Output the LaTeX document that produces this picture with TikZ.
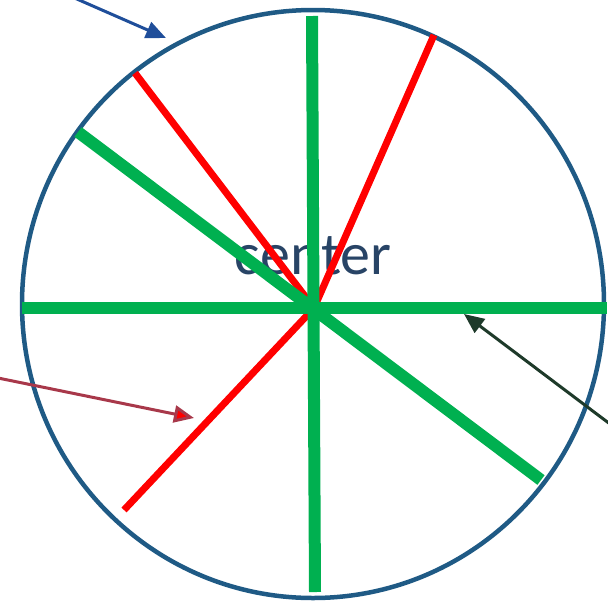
\documentclass[tikz,border=0pt]{standalone}
\usepackage{fontspec}
\setmainfont{Carlito}
\usetikzlibrary{arrows.meta}
\definecolor{rim}{HTML}{1F5A85}
\definecolor{spoke}{HTML}{00B050}
\definecolor{chord}{HTML}{FF0000}
\definecolor{labeltext}{HTML}{284466}
\definecolor{pointblue}{HTML}{1F4E9A}
\definecolor{pointred}{HTML}{A8384A}
\definecolor{pointgreen}{HTML}{1E3A2A}

\begin{document}
\begin{tikzpicture}[x=1pt, y=-1pt,
  diameter/.style={draw=spoke, line width=12pt},
  radius/.style={draw=chord, line width=7pt},
  pointer/.style={line width=3pt, -{Triangle[length=20pt, width=17pt]}}]
  \useasboundingbox (0,0) rectangle (608,606);

  \draw[rim, line width=4.5pt] (313,304) ellipse [x radius=291, y radius=294];
  \node[text=labeltext, font=\fontsize{60}{61}\selectfont] (label) at (313,256) {center};

  % centre and ends of the lines on the rim
  \coordinate (o) at (314,308);
  \coordinate (r1) at (135,73);
  \coordinate (r2) at (434,35);
  \coordinate (r3) at (124,510);
  \coordinate (w) at (22,308);
  \coordinate (e) at (607,308);
  \coordinate (n) at (312,16);
  \coordinate (s) at (315,592);
  \coordinate (nw) at (78,132);
  \coordinate (se) at (541,480);

  \foreach \p in {r1,r2,r3}
    \draw[radius] (o) -- (\p);
  \draw[diameter] (w) -- (e);
  \draw[diameter] (n) -- (s);
  \draw[diameter] (nw) -- (se);

  % pointers coming in from outside
  \coordinate (a1) at (70,-4);
  \coordinate (b1) at (166,38);
  \coordinate (a2) at (-2,378);
  \coordinate (b2) at (194,418);
  \coordinate (a3) at (610,424);
  \coordinate (b3) at (464,314);
  \draw[pointer, pointblue] (a1) -- (b1);
  \draw[pointer, pointred, -{Triangle[length=20pt, width=17pt, fill=chord]}] (a2) -- (b2);
  \draw[pointer, pointgreen] (a3) -- (b3);
\end{tikzpicture}
\end{document}
